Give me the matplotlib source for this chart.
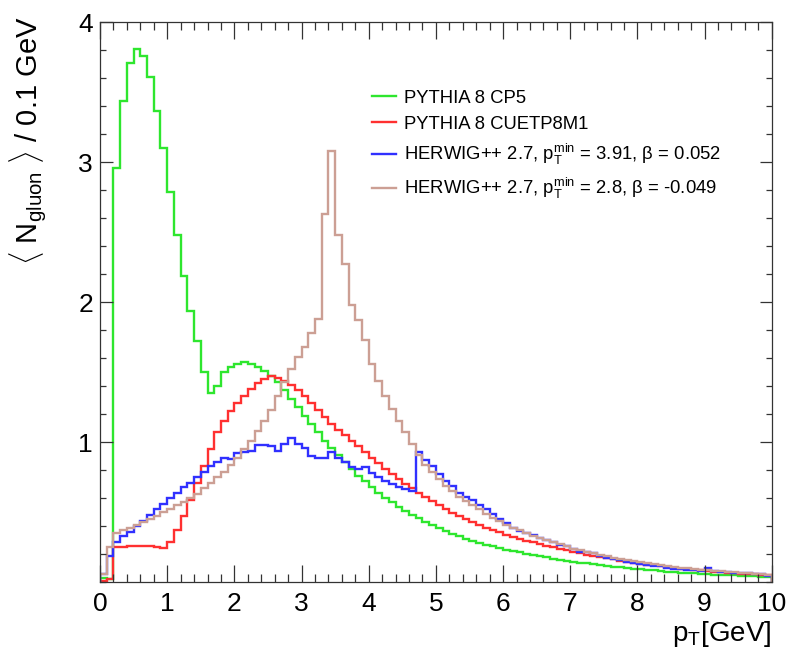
import numpy as np
import matplotlib

matplotlib.use("Agg")
import matplotlib.pyplot as plt
from matplotlib.ticker import MultipleLocator, FixedLocator

plt.rcParams["font.family"] = ["Liberation Sans", "DejaVu Sans"]
plt.rcParams["mathtext.fontset"] = "custom"
plt.rcParams["mathtext.rm"] = "Liberation Sans"
plt.rcParams["mathtext.it"] = "Liberation Sans:italic"

# p_T bins of 0.1 GeV from 0 to 10 GeV
bin_edges = np.round(np.linspace(0.0, 10.0, 101), 2)

pythia_cp5 = [
    0.03, 0.02, 2.96, 3.44, 3.71, 3.81, 3.76, 3.61, 3.37, 3.10,
    2.79, 2.48, 2.19, 1.94, 1.72, 1.50, 1.35, 1.40, 1.50, 1.54,
    1.56, 1.57, 1.56, 1.54, 1.51, 1.47, 1.43, 1.37, 1.31, 1.25,
    1.19, 1.13, 1.07, 1.01, 0.96, 0.91, 0.86, 0.81, 0.76, 0.72,
    0.68, 0.64, 0.60, 0.57, 0.54, 0.51, 0.48, 0.455, 0.43, 0.405,
    0.385, 0.365, 0.345, 0.33, 0.31, 0.295, 0.28, 0.268, 0.255, 0.243,
    0.232, 0.222, 0.212, 0.202, 0.193, 0.184, 0.176, 0.168, 0.160, 0.153,
    0.146, 0.139, 0.133, 0.127, 0.121, 0.115, 0.110, 0.105, 0.100, 0.095,
    0.091, 0.087, 0.083, 0.079, 0.075, 0.071, 0.068, 0.065, 0.062, 0.059,
    0.056, 0.054, 0.052, 0.050, 0.048, 0.046, 0.044, 0.042, 0.040, 0.038,
]

pythia_cuetp8m1 = [
    0.01, 0.02, 0.25, 0.25, 0.26, 0.26, 0.26, 0.255, 0.25, 0.245,
    0.29, 0.37, 0.47, 0.59, 0.71, 0.83, 0.95, 1.07, 1.15, 1.22,
    1.28, 1.33, 1.38, 1.42, 1.45, 1.47, 1.46, 1.44, 1.41, 1.37,
    1.33, 1.28, 1.23, 1.18, 1.13, 1.09, 1.05, 1.01, 0.97, 0.93,
    0.89, 0.85, 0.81, 0.77, 0.74, 0.70, 0.67, 0.64, 0.61, 0.58,
    0.55, 0.52, 0.495, 0.47, 0.45, 0.43, 0.41, 0.39, 0.37, 0.355,
    0.34, 0.325, 0.31, 0.297, 0.284, 0.272, 0.26, 0.249, 0.238, 0.227,
    0.217, 0.207, 0.197, 0.188, 0.179, 0.17, 0.162, 0.154, 0.146, 0.139,
    0.132, 0.125, 0.119, 0.113, 0.107, 0.102, 0.097, 0.092, 0.087, 0.083,
    0.079, 0.075, 0.071, 0.068, 0.064, 0.061, 0.058, 0.055, 0.052, 0.049,
]

herwig_391 = [
    0.06, 0.19, 0.29, 0.33, 0.36, 0.40, 0.44, 0.48, 0.52, 0.56,
    0.60, 0.64, 0.68, 0.71, 0.75, 0.79, 0.83, 0.86, 0.89, 0.88,
    0.92, 0.93, 0.94, 0.98, 0.98, 0.97, 0.94, 0.99, 1.03, 0.99,
    0.96, 0.90, 0.89, 0.89, 0.93, 0.89, 0.86, 0.82, 0.81, 0.82,
    0.78, 0.75, 0.72, 0.70, 0.68, 0.665, 0.65, 0.93, 0.87, 0.83,
    0.77, 0.72, 0.69, 0.64, 0.61, 0.59, 0.55, 0.52, 0.49, 0.45,
    0.42, 0.39, 0.365, 0.35, 0.335, 0.315, 0.30, 0.29, 0.265, 0.255,
    0.235, 0.215, 0.215, 0.205, 0.185, 0.175, 0.168, 0.158, 0.145, 0.138,
    0.128, 0.122, 0.117, 0.112, 0.103, 0.097, 0.092, 0.088, 0.086, 0.082,
    0.098, 0.076, 0.072, 0.071, 0.068, 0.066, 0.063, 0.060, 0.056, 0.042,
]

herwig_28 = [
    0.06, 0.25, 0.35, 0.37, 0.39, 0.41, 0.43, 0.45, 0.47, 0.50,
    0.52, 0.55, 0.57, 0.60, 0.63, 0.67, 0.71, 0.75, 0.79, 0.84,
    0.89, 0.95, 1.01, 1.08, 1.15, 1.23, 1.33, 1.43, 1.52, 1.61,
    1.68, 1.78, 1.88, 2.63, 3.08, 2.48, 2.27, 1.98, 1.87, 1.73,
    1.56, 1.44, 1.33, 1.24, 1.15, 1.07, 0.99, 0.91, 0.84, 0.79,
    0.74, 0.69, 0.65, 0.61, 0.58, 0.55, 0.52, 0.49, 0.46, 0.435,
    0.41, 0.39, 0.37, 0.35, 0.33, 0.315, 0.30, 0.285, 0.27, 0.255,
    0.24, 0.228, 0.216, 0.205, 0.194, 0.184, 0.175, 0.166, 0.157, 0.149,
    0.141, 0.134, 0.127, 0.12, 0.114, 0.108, 0.103, 0.098, 0.093, 0.088,
    0.084, 0.08, 0.076, 0.072, 0.069, 0.066, 0.063, 0.06, 0.057, 0.054,
]

series = [
    (pythia_cp5, "#2ee62e", "PYTHIA 8 CP5"),
    (pythia_cuetp8m1, "#ff3030", "PYTHIA 8 CUETP8M1"),
    (herwig_391, "#3030ff",
     r"HERWIG++ 2.7, p$_{\rm T}^{\rm min}$ = 3.91, β = 0.052"),
    (herwig_28, "#cc9f94",
     r"HERWIG++ 2.7, p$_{\rm T}^{\rm min}$ = 2.8, β = -0.049"),
]

fig = plt.figure(figsize=(7.94, 6.57), dpi=100)
ax = fig.add_axes([0.126, 0.114, 0.846, 0.852])

for values, color, label in series:
    ax.stairs(values, bin_edges, color=color, linewidth=1.7, label=label)

ax.set_xlim(0, 10)
ax.set_ylim(0, 4)
ax.xaxis.set_major_locator(MultipleLocator(1))
ax.xaxis.set_minor_locator(MultipleLocator(0.2))
ax.yaxis.set_major_locator(FixedLocator([1, 2, 3, 4]))
ax.yaxis.set_minor_locator(MultipleLocator(0.2))
ax.tick_params(which="both", direction="in", top=True, right=True,
               color="#333333", width=0.9)
ax.tick_params(axis="x", which="major", length=12, labelsize=19, pad=7)
ax.tick_params(axis="x", which="minor", length=6)
ax.tick_params(axis="y", which="major", length=9, labelsize=19, pad=5)
ax.tick_params(axis="y", which="minor", length=4.5)
for spine in ax.spines.values():
    spine.set_linewidth(0.9)
    spine.set_color("#333333")

ax.set_xlabel(r"p$_{\rm T}$[GeV]", fontsize=20, loc="right", labelpad=2)
ax.set_ylabel(r"$\langle$ N$_{\rm gluon}$ $\rangle$ / 0.1 GeV",
              fontsize=21, loc="top")
ax.yaxis.set_label_coords(-0.078, 1.01)

ax.legend(loc="upper left", bbox_to_anchor=(0.405, 0.88), frameon=False,
          fontsize=13.3, handlelength=1.3, handletextpad=0.45,
          labelspacing=0.5, borderpad=0, borderaxespad=0)

fig.savefig("out.png", dpi=100)
